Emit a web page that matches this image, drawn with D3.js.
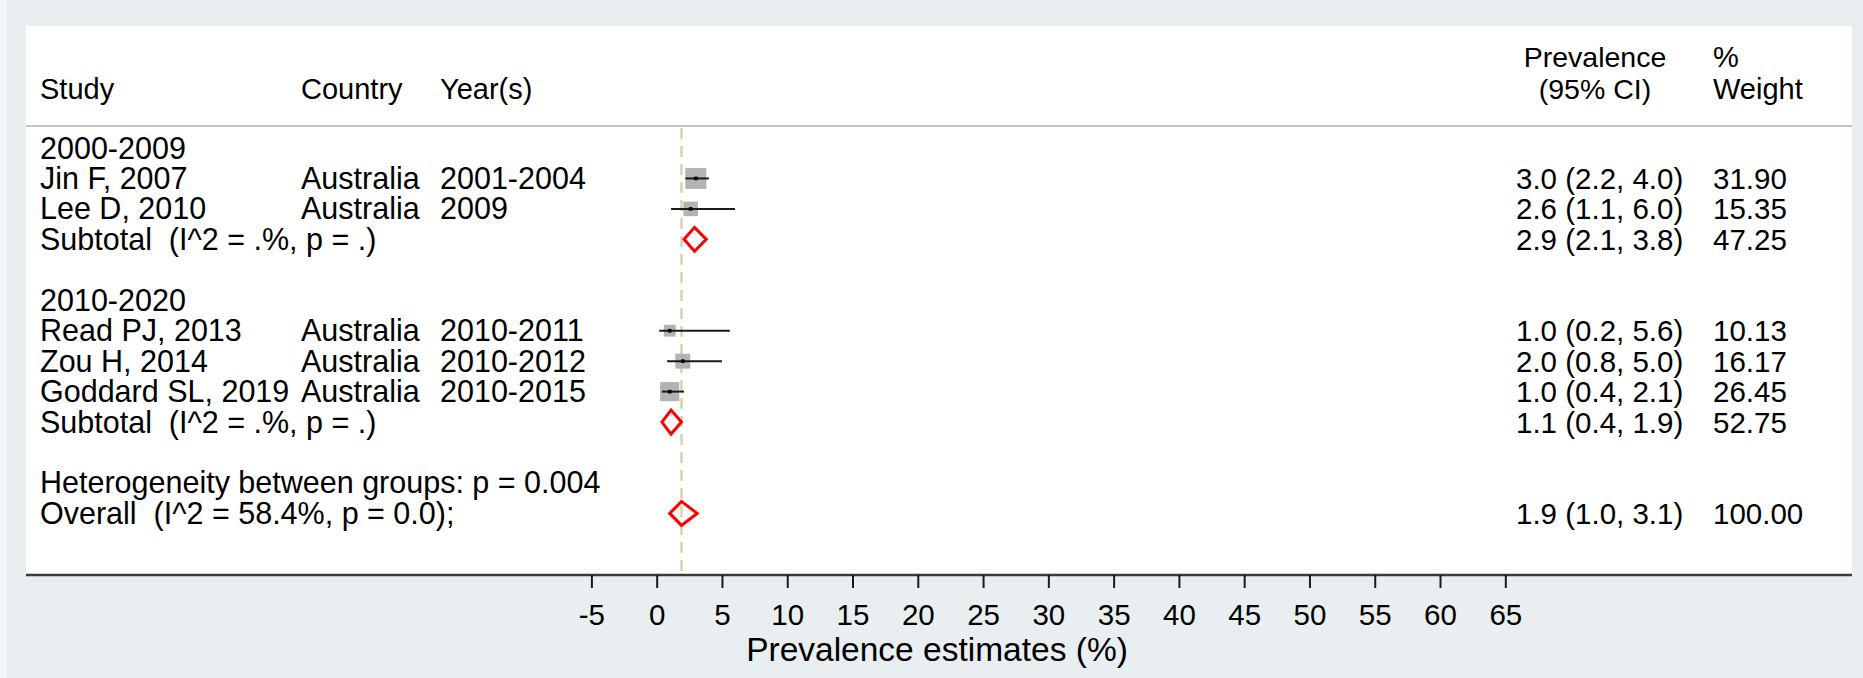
<!DOCTYPE html>
<html>
<head>
<meta charset="utf-8">
<script src="https://cdn.jsdelivr.net/npm/d3@7"></script>
<style>
  html, body { margin: 0; padding: 0; background: #e9eef0; }
  svg { display: block; }
  text { white-space: pre; }
</style>
</head>
<body>
<svg id="chart" width="1863" height="678"></svg>
<script>
// ---- study-level data ----
const groupNames    = ["2000-2009", "2010-2020"];
const studyGroup    = [0, 0, 1, 1, 1];
const studies       = ["Jin F, 2007", "Lee D, 2010", "Read PJ, 2013", "Zou H, 2014", "Goddard SL, 2019"];
const countries     = ["Australia", "Australia", "Australia", "Australia", "Australia"];
const years         = ["2001-2004", "2009", "2010-2011", "2010-2012", "2010-2015"];
const estimates     = [3.0, 2.6, 1.0, 2.0, 1.0];
const lowerCI       = [2.2, 1.1, 0.2, 0.8, 0.4];
const upperCI       = [4.0, 6.0, 5.6, 5.0, 2.1];
const weights       = [31.90, 15.35, 10.13, 16.17, 26.45];

// ---- pooled estimates per group ----
const subtotalLabel = "Subtotal  (I^2 = .%, p = .)";
const subtotalEst   = [2.9, 1.1];
const subtotalLow   = [2.1, 0.4];
const subtotalHigh  = [3.8, 1.9];
const subtotalWt    = [47.25, 52.75];

// ---- overall pooled estimate ----
const heterogeneityText = "Heterogeneity between groups: p = 0.004";
const overallLabel  = "Overall  (I^2 = 58.4%, p = 0.0);";
const overallEst    = 1.9;
const overallLow    = 1.0;
const overallHigh   = 3.1;
const overallWt     = 100.00;

// ---- axis ----
const xTickValues   = [-5, 0, 5, 10, 15, 20, 25, 30, 35, 40, 45, 50, 55, 60, 65];
const xTitle        = "Prevalence estimates (%)";

const fmt1 = d3.format(".1f");
const fmt2 = d3.format(".2f");
const ciText = (e, l, h) => `${fmt1(e)} (${fmt1(l)}, ${fmt1(h)})`;

// ---- build row layout ----
const rows = [];
let r = 0;
groupNames.forEach((g, gi) => {
  rows.push({ row: r++, type: "header", label: g });
  studies.forEach((s, i) => {
    if (studyGroup[i] !== gi) return;
    rows.push({ row: r++, type: "study", label: s, country: countries[i], year: years[i],
                est: estimates[i], low: lowerCI[i], high: upperCI[i], wt: weights[i] });
  });
  rows.push({ row: r++, type: "pooled", label: subtotalLabel,
              est: subtotalEst[gi], low: subtotalLow[gi], high: subtotalHigh[gi], wt: subtotalWt[gi] });
  r++; // blank line between sections
});
rows.push({ row: r++, type: "header", label: heterogeneityText });
rows.push({ row: r++, type: "pooled", label: overallLabel,
            est: overallEst, low: overallLow, high: overallHigh, wt: overallWt });
const nRows = r;

// ---- geometry ----
const W = 1863, H = 678;
const panel = { left: 26, top: 26, right: 1852, bottom: 575 };
const FONT = "'Liberation Sans', Arial, Helvetica, sans-serif";
const FS = 30.5;     // table rows
const FS_HEAD = 29;  // column headings

const svg = d3.select("#chart");

const x = d3.scaleLinear().domain([-5, 65]).range([591.4, 1505.3]);
const y = d3.scaleLinear().domain([0, nRows - 1]).range([148, 513.4]);
const boxSide = d3.scaleSqrt().domain([0, d3.max(weights)]).range([0, 21]);

// background & white plot panel
svg.append("rect").attr("width", W).attr("height", H).attr("fill", "#e9eef0");
svg.append("rect").attr("width", 7).attr("height", H).attr("fill", "#f4f7f8");
svg.append("rect")
  .attr("x", panel.left).attr("y", panel.top)
  .attr("width", panel.right - panel.left).attr("height", panel.bottom - panel.top)
  .attr("fill", "#ffffff");

// header separator
svg.append("line")
  .attr("x1", panel.left).attr("x2", panel.right)
  .attr("y1", 126).attr("y2", 126)
  .attr("stroke", "#c4c4c4").attr("stroke-width", 2);

// reference line at the overall estimate
svg.append("line")
  .attr("x1", x(overallEst)).attr("x2", x(overallEst))
  .attr("y1", 128).attr("y2", panel.bottom)
  .attr("stroke", "#d6cd9e").attr("stroke-width", 2.2)
  .attr("stroke-dasharray", "11,7");

// text helper
const text = (t, xx, yy, anchor = "start", size = FS) =>
  svg.append("text").attr("x", xx).attr("y", yy)
    .attr("text-anchor", anchor)
    .attr("xml:space", "preserve")
    .attr("font-family", FONT).attr("font-size", size)
    .attr("fill", "#000").text(t);

// column headings
text("Study", 40, 99, "start", FS_HEAD);
text("Country", 301, 99, "start", FS_HEAD);
text("Year(s)", 440, 99, "start", FS_HEAD);
text("Prevalence", 1595, 67, "middle", 28.5);
text("(95% CI)", 1595, 99, "middle", 28.5);
text("%", 1713, 67, "start", FS_HEAD);
text("Weight", 1713, 99, "start", FS_HEAD);

// row text
const base = d => y(d.row) + 10.5;
rows.forEach(d => {
  text(d.label, 40, base(d));
  if (d.type === "study") {
    text(d.country, 301, base(d));
    text(d.year, 440, base(d));
  }
  if (d.type !== "header") {
    text(ciText(d.est, d.low, d.high), 1516, base(d), "start", 29.5);
    text(fmt2(d.wt), 1713, base(d), "start", 29.5);
  }
});

// study markers: weight-scaled boxes, CI lines, point estimate dots
const studyRows = rows.filter(d => d.type === "study");
const marks = svg.append("g");
marks.selectAll("rect.box").data(studyRows).join("rect")
  .attr("class", "box")
  .attr("x", d => x(d.est) - boxSide(d.wt) / 2)
  .attr("y", d => y(d.row) - boxSide(d.wt) / 2)
  .attr("width", d => boxSide(d.wt))
  .attr("height", d => boxSide(d.wt))
  .attr("fill", "#b3b3b3");
marks.selectAll("line.ci").data(studyRows).join("line")
  .attr("class", "ci")
  .attr("x1", d => x(d.low)).attr("x2", d => x(d.high))
  .attr("y1", d => y(d.row)).attr("y2", d => y(d.row))
  .attr("stroke", "#1a1a1a").attr("stroke-width", 2);
marks.selectAll("rect.dot").data(studyRows).join("rect")
  .attr("class", "dot")
  .attr("x", d => x(d.est) - 1.8).attr("y", d => y(d.row) - 1.8)
  .attr("width", 3.6).attr("height", 3.6)
  .attr("fill", "#000");

// pooled diamonds
const pooledRows = rows.filter(d => d.type === "pooled");
marks.selectAll("path.diamond").data(pooledRows).join("path")
  .attr("class", "diamond")
  .attr("d", d => {
    const cy = y(d.row), h = 12;
    return `M${x(d.low)},${cy} L${x(d.est)},${cy - h} L${x(d.high)},${cy} L${x(d.est)},${cy + h} Z`;
  })
  .attr("fill", "none")
  .attr("stroke", "#ff0000").attr("stroke-width", 3)
  .attr("stroke-linejoin", "miter");

// x axis
svg.append("line")
  .attr("x1", panel.left).attr("x2", panel.right)
  .attr("y1", panel.bottom).attr("y2", panel.bottom)
  .attr("stroke", "#3a3a3a").attr("stroke-width", 2.5);

const axis = svg.append("g")
  .attr("transform", `translate(0,${panel.bottom})`)
  .call(d3.axisBottom(x).tickValues(xTickValues).tickSize(13).tickSizeOuter(0).tickPadding(16)
        .tickFormat(d => String(d)));
axis.select(".domain").remove();
axis.selectAll(".tick line").attr("stroke", "#1a1a1a").attr("stroke-width", 2);
axis.selectAll(".tick text")
  .attr("font-family", FONT).attr("font-size", 29.5).attr("fill", "#000");

text(xTitle, 937, 661, "middle", 33.5);
</script>
</body>
</html>
